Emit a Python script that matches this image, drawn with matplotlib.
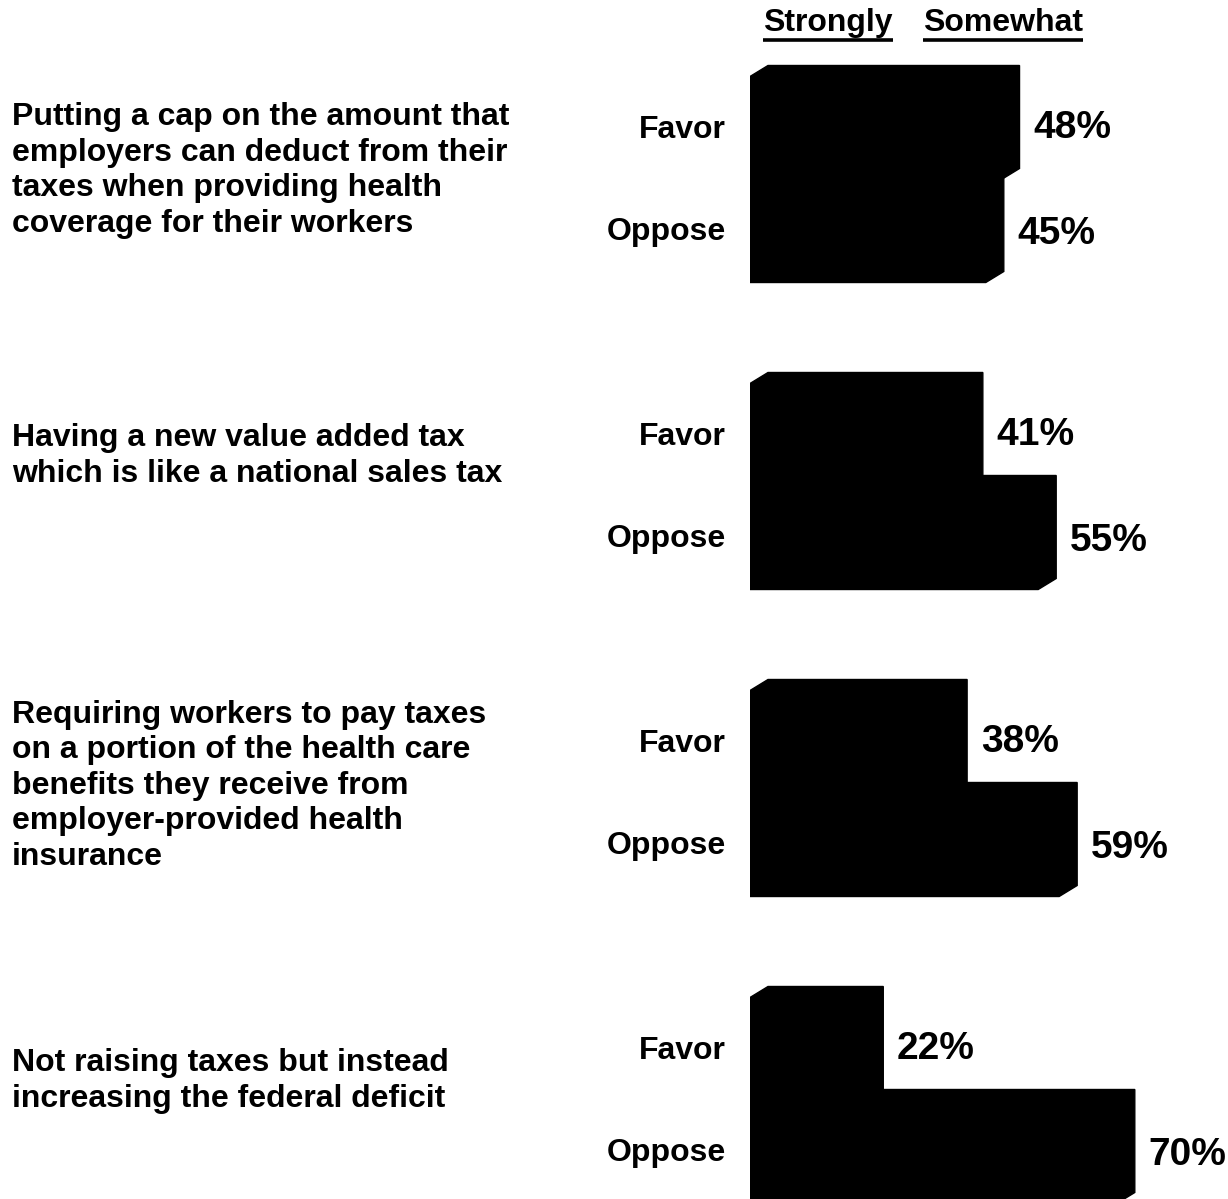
import matplotlib
matplotlib.use("Agg")
import matplotlib.pyplot as plt
import matplotlib.transforms as mtransforms
from matplotlib.patches import Polygon

plt.rcParams['font.family'] = ['Liberation Sans', 'DejaVu Sans']
plt.rcParams['font.weight'] = 'bold'

questions = [
    "Putting a cap on the amount that\nemployers can deduct from their\ntaxes when providing health\ncoverage for their workers",
    "Having a new value added tax\nwhich is like a national sales tax",
    "Requiring workers to pay taxes\non a portion of the health care\nbenefits they receive from\nemployer-provided health\ninsurance",
    "Not raising taxes but instead\nincreasing the federal deficit",
]
favor = [48, 41, 38, 22]
oppose = [45, 55, 59, 70]
row_labels = ["Favor", "Oppose"]
headers = ["Strongly", "Somewhat"]

W, H = 1228, 1199
fig = plt.figure(figsize=(W / 100, H / 100), dpi=100)
px_per_unit = 5.24
ax = fig.add_axes([750 / W, 0, 90 * px_per_unit / W, 1])
ax.set_xlim(0, 90)
ax.set_ylim(H, 0)
ax.axis('off')

# layout (y in pixel-like units, x in percent)
group_gap = 307
first_favor = 128
bar_h = 103
dx = 18 / px_per_unit   # depth of the 3d bar
dy = 11
q_baselines = [232, 482, 865, 1107]   # baseline of last line of each question

left_tr = mtransforms.blended_transform_factory(fig.transFigure, ax.transData)


def bar3d(v, c, lab_off):
    top, bot = c - bar_h / 2, c + bar_h / 2
    ax.barh(c, v, height=bar_h, color='black', linewidth=0)
    # silhouette of the 3d bar (front + top + side faces)
    ax.add_patch(Polygon([(0, bot), (0, top), (dx, top - dy), (v + dx, top - dy),
                          (v + dx, bot - dy), (v, bot)],
                         closed=True, facecolor='black', edgecolor='black', lw=1))
    ax.text(v + dx + 2.6, c + lab_off, f"{v}%", ha='left', va='center', fontsize=28,
            fontweight='bold', clip_on=False)


for i in range(len(questions)):
    cf = first_favor + group_gap * i
    co = cf + bar_h
    # oppose first so favor is drawn on top
    bar3d(oppose[i], co, 3)
    bar3d(favor[i], cf, 0)
    for lab, c in zip(row_labels, [cf + 2, co + 1]):
        fig.text(726 / W, c, lab, transform=left_tr, ha='right', va='center',
                 fontsize=23, fontweight='bold')
    fig.text(12 / W, q_baselines[i], questions[i], transform=left_tr, ha='left',
             va='baseline', fontsize=23, fontweight='bold', linespacing=1.24)

# column headers, underlined
hdr_x = [2.5, 33.0]
hdr_texts = []
for h, x in zip(headers, hdr_x):
    hdr_texts.append(ax.text(x, 31, h, ha='left', va='baseline', fontsize=23,
                             fontweight='bold', clip_on=False))
fig.canvas.draw()
inv = ax.transData.inverted()
for t in hdr_texts:
    bb = t.get_window_extent()
    (x0, _), (x1, _) = inv.transform([(bb.x0, 0), (bb.x1, 0)])
    ax.plot([x0, x1], [39.5, 39.5], color='black', lw=2.6, solid_capstyle='butt',
            clip_on=False)

fig.savefig("out.png", dpi=100, facecolor='white')
